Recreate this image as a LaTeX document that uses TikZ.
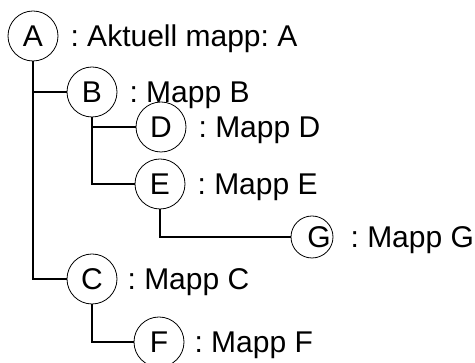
\documentclass[tikz,border=0pt]{standalone}
\usepackage{fontspec}
\setmainfont{Liberation Sans}
\usetikzlibrary{positioning}
\begin{document}
\frenchspacing
\begin{tikzpicture}[x=1pt,y=1pt,
	mapp/.style={circle, draw, line width=0.8pt, minimum size=50pt, inner sep=0pt},
	namn/.style={anchor=base west, inner sep=0pt, yshift=-11pt},
	gren/.style={line width=1.4pt}]
				\useasboundingbox (0,0) rectangle (475,-363);
				\fontsize{30}{36}\selectfont
				\path
				(33,-36) node[mapp](a){A}
				(92,-92) node[mapp](b){B}
				(161,-127) node[mapp](d){D}
				(160,-184) node[mapp](e){E}
				(312,-237) node[mapp, minimum size=42pt](g){\makebox[0pt]{\hspace{14pt}G}}
				(92,-279) node[mapp](c){C}
				(159,-342) node[mapp](f){F}
				;
				\node[right=12pt of a.east, namn] (ta){: Aktuell mapp: A};
				\node[right=12pt of b.east, namn] (tb){: Mapp B};
				\node[right=12pt of d.east, namn] (td){: Mapp D};
				\node[right=12pt of e.east, namn] (te){: Mapp E};
				\node[right=17pt of g.east, namn] (tg){: Mapp G};
				\node[right=10pt of c.east, namn] (tc){: Mapp C};
				\node[right=10pt of f.east, namn] (tf){: Mapp F};
				\draw[gren] (a.south) |- (b.west);
				\draw[gren] (a.south) |- (c.west);
				\draw[gren] (b.south) |- (d.west);
				\draw[gren] (b.south) |- (e.west);
				\draw[gren] (e.south) |- (g.west);
				\draw[gren] (c.south) |- (f.west);
			\end{tikzpicture}
\end{document}
